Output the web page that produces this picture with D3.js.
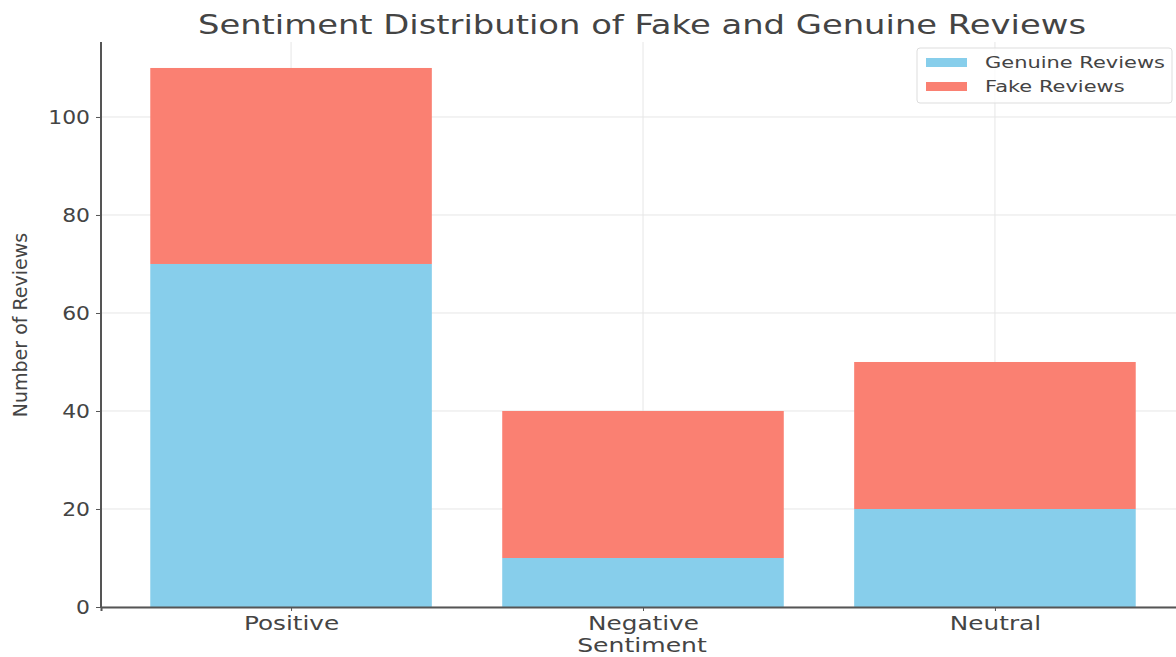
<!DOCTYPE html>
<html>
<head>
<meta charset="utf-8">
<script src="https://cdn.jsdelivr.net/npm/d3@7"></script>
<style>
  body { margin: 0; background: #fff; }
  text { font-family: "DejaVu Sans", sans-serif; fill: #444; }
</style>
</head>
<body>
<svg id="chart" width="1176" height="657"></svg>
<script>
const categories = ["Positive", "Negative", "Neutral"];
const genuine = [70, 10, 20];
const fake = [40, 30, 30];
const seriesNames = ["Genuine Reviews", "Fake Reviews"];
const yTicks = [0, 20, 40, 60, 80, 100];

const colors = { genuine: "#87CEEB", fake: "#FA8072" };
const stretch = 1.15; // picture looks widened, so widen the glyphs too

const svg = d3.select("#chart");
const plot = { left: 101, right: 1185, top: 42, bottom: 607 };

// matplotlib style x limits: bars of width 0.8 plus 5% margin
const x = d3.scaleLinear().domain([-0.54, 2.54]).range([plot.left, plot.right]);
const y = d3.scaleLinear().domain([0, 115.3]).range([plot.bottom, plot.top]);
const barW = x(0.8) - x(0);

function widen(sel, factor) {
  sel.each(function () {
    const len = this.getComputedTextLength();
    d3.select(this).attr("textLength", len * (factor || stretch)).attr("lengthAdjust", "spacingAndGlyphs");
  });
  return sel;
}

// grid
svg.append("g")
  .selectAll("line")
  .data(yTicks)
  .join("line")
  .attr("x1", plot.left).attr("x2", plot.right)
  .attr("y1", d => y(d)).attr("y2", d => y(d))
  .attr("stroke", "#e6e6e6").attr("stroke-width", 1);
svg.append("g")
  .selectAll("line")
  .data(categories)
  .join("line")
  .attr("x1", (d, i) => x(i)).attr("x2", (d, i) => x(i))
  .attr("y1", plot.top).attr("y2", plot.bottom)
  .attr("stroke", "#e6e6e6").attr("stroke-width", 1);

// stacked bars
const rows = categories.map((c, i) => ({ c, i, g: genuine[i], f: fake[i] }));
svg.append("g").selectAll("rect")
  .data(rows)
  .join("rect")
  .attr("x", d => x(d.i) - barW / 2)
  .attr("width", barW)
  .attr("y", d => y(d.g))
  .attr("height", d => y(0) - y(d.g))
  .attr("fill", colors.genuine);
svg.append("g").selectAll("rect")
  .data(rows)
  .join("rect")
  .attr("x", d => x(d.i) - barW / 2)
  .attr("width", barW)
  .attr("y", d => y(d.g + d.f))
  .attr("height", d => y(d.g) - y(d.g + d.f))
  .attr("fill", colors.fake);

// axes
const yAxis = svg.append("g")
  .attr("transform", `translate(${plot.left},0)`)
  .call(d3.axisLeft(y).tickValues(yTicks).tickSize(5).tickPadding(6));
const xAxis = svg.append("g")
  .attr("transform", `translate(0,${plot.bottom})`)
  .call(d3.axisBottom(x).tickValues([0, 1, 2]).tickFormat(i => categories[i]).tickSize(4).tickPadding(6));
[yAxis, xAxis].forEach(a => {
  a.select(".domain").attr("stroke", "#555").attr("stroke-width", 2);
  a.selectAll(".tick line").attr("stroke", "#555");
  a.selectAll(".tick text").attr("fill", "#444").attr("font-size", 19).attr("font-family", "DejaVu Sans");
});
yAxis.select(".domain").attr("d", `M0,${plot.top}V${plot.bottom}`);
widen(yAxis.selectAll(".tick text"));
widen(xAxis.selectAll(".tick text"), 1.3);

// title and labels
widen(svg.append("text")
  .attr("x", 642).attr("y", 34)
  .attr("text-anchor", "middle")
  .attr("font-size", 26.5)
  .text("Sentiment Distribution of Fake and Genuine Reviews"), 1.275);

widen(svg.append("text")
  .attr("x", 642).attr("y", 652)
  .attr("text-anchor", "middle")
  .attr("font-size", 19)
  .text("Sentiment"), 1.32);

widen(svg.append("text")
  .attr("transform", "translate(27,325) rotate(-90)")
  .attr("text-anchor", "middle")
  .attr("font-size", 19)
  .attr("font-family", "Liberation Sans Narrow, Liberation Sans, sans-serif")
  .text("Number of Reviews"), 1.0);

// legend
const legend = svg.append("g").attr("transform", "translate(917,48)");
legend.append("rect")
  .attr("width", 255).attr("height", 55).attr("rx", 3)
  .attr("fill", "#fff").attr("fill-opacity", 0.8)
  .attr("stroke", "#ddd");
const items = legend.selectAll("g.item")
  .data(seriesNames)
  .join("g")
  .attr("class", "item")
  .attr("transform", (d, i) => `translate(9,${10 + i * 24})`);
items.append("rect")
  .attr("width", 41).attr("height", 9)
  .attr("fill", (d, i) => i === 0 ? colors.genuine : colors.fake);
widen(items.append("text")
  .attr("x", 59).attr("y", 10)
  .attr("font-size", 16.5)
  .text(d => d), 1.27);
</script>
</body>
</html>
